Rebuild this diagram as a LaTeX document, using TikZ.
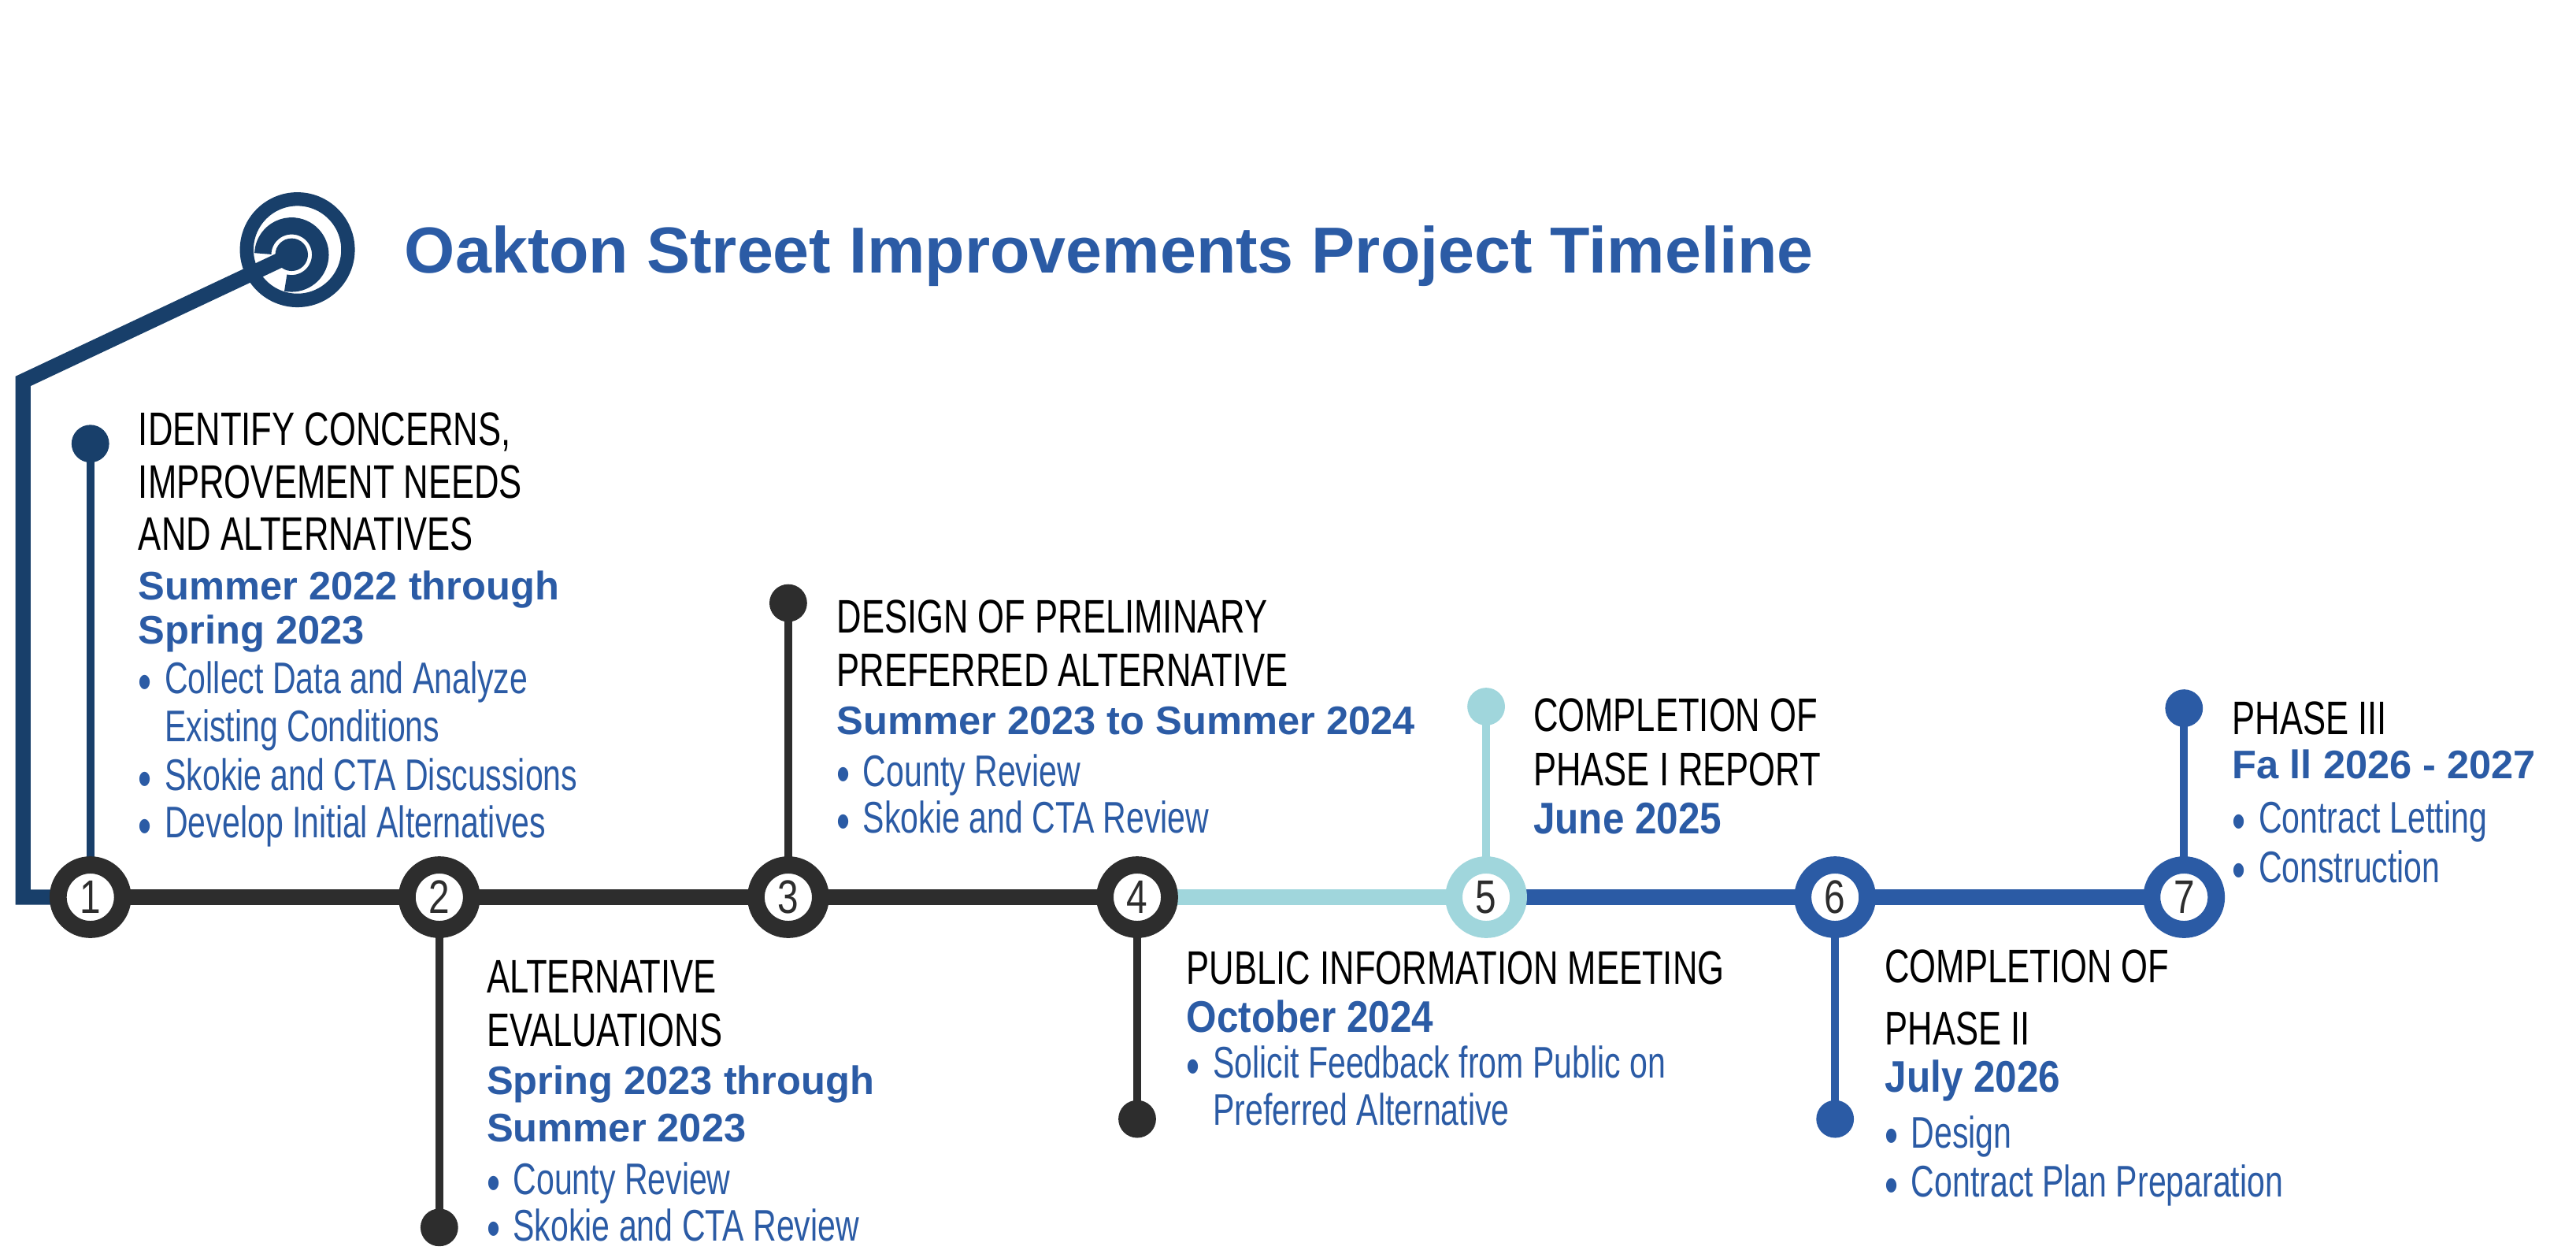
\documentclass[tikz,border=0pt]{standalone}
\usepackage{fontspec}
\usetikzlibrary{backgrounds}
\setmainfont{Liberation Sans}
\newfontfamily\condfam[FakeStretch=0.73]{Liberation Sans}
\newfontfamily\datefam[FakeStretch=0.88]{Liberation Sans}
\newfontfamily\numfam[FakeStretch=0.8]{Liberation Sans}
\definecolor{oaknavy}{RGB}{24,63,106}
\definecolor{oakblue}{RGB}{43,91,165}
\definecolor{oakteal}{RGB}{160,214,220}
\definecolor{oakgray}{RGB}{45,45,45}
\newcommand{\hdfont}{\condfam\fontsize{17}{20}\selectfont}
\newcommand{\dtfont}{\bfseries\fontsize{14.4}{17}\selectfont}
\newcommand{\dtcfont}{\datefam\bfseries\fontsize{16}{19}\selectfont}
\newcommand{\lifont}{\condfam\fontsize{16}{19}\selectfont}
\newcommand{\nofont}{\numfam\fontsize{17}{19}\selectfont}
\newcommand{\bul}{\makebox[9.5pt][l]{\raisebox{-2.2pt}{\fontsize{19}{19}\selectfont\textbullet}}}

\begin{document}
\begin{tikzpicture}[x=0.2086mm, y=-0.2086mm,
	hd/.style={anchor=base west, inner sep=0pt, font=\hdfont},
	dt/.style={anchor=base west, inner sep=0pt, text=oakblue, font=\dtfont},
	dtc/.style={dt, font=\dtcfont},
	li/.style={anchor=base west, inner sep=0pt, text=oakblue, font=\lifont},
	station/.style={circle, draw=#1, fill=white, line width=6.2pt, minimum size=23.3pt,
		inner sep=0pt, font=\nofont, text=oakgray},
	knob/.style={circle, fill=#1, minimum size=13.6pt, inner sep=0pt},
	rail/.style={line width=5.5pt},
	riser/.style={line width=2.85pt}]
	\useasboundingbox (0,0) rectangle (1568,763);

	\node[anchor=base west, inner sep=0pt, text=oakblue, font=\bfseries\fontsize{23.5}{28}\selectfont]
		(title) at (246,166) {Oakton Street Improvements Project Timeline};

	\node[circle, draw=oaknavy, line width=4.93pt, minimum size=36.6pt, inner sep=0pt] (target) at (181,152) {};
	\node[circle, fill=oaknavy, minimum size=11.8pt, inner sep=0pt] (bull) at (177.5,155) {};
	\draw[oaknavy, line width=6.1pt] (bull.center) ++(102:17.5) arc[start angle=102, end angle=-178, radius=17.5];

	\node[station=oakgray] (s1) at (55,546) {1};
	\node[station=oakgray] (s2) at (267.4,546) {2};
	\node[station=oakgray] (s3) at (479.8,546) {3};
	\node[station=oakgray] (s4) at (692.2,546) {4};
	\node[station=oakteal] (s5) at (904.6,546) {5};
	\node[station=oakblue] (s6) at (1117,546) {6};
	\node[station=oakblue] (s7) at (1329.4,546) {7};

	\node[knob=oaknavy] (k1) at (55,270) {};
	\node[knob=oakgray] (k2) at (267.4,747) {};
	\node[knob=oakgray] (k3) at (479.8,367) {};
	\node[knob=oakgray] (k4) at (692.2,681) {};
	\node[knob=oakteal] (k5) at (904.6,430) {};
	\node[knob=oakblue] (k6) at (1117,681) {};
	\node[knob=oakblue] (k7) at (1329.4,431) {};

	\coordinate (fb) at (14,546);
	\coordinate (ft) at (14,232);
	\begin{scope}[on background layer]
		\draw[oaknavy, line width=5.5pt, line join=miter] (s1.center) -- (fb) -- (ft) -- (bull.center);
		\draw[rail, oakgray] (s1.center) -- (s4.center);
		\draw[rail, oakteal] (s4.center) -- (s5.center);
		\draw[rail, oakblue] (s5.center) -- (s7.center);
		\draw[riser, oaknavy] (s1.center) -- (k1.center);
		\draw[riser, oakgray] (s2.center) -- (k2.center);
		\draw[riser, oakgray] (s3.center) -- (k3.center);
		\draw[riser, oakgray] (s4.center) -- (k4.center);
		\draw[riser, oakteal] (s5.center) -- (k5.center);
		\draw[riser, oakblue] (s6.center) -- (k6.center);
		\draw[riser, oakblue] (s7.center) -- (k7.center);
	\end{scope}

	\node[hd] (h1a) at (84,271) {IDENTIFY CONCERNS,};
	\node[hd] (h1b) at (84,303) {IMPROVEMENT NEEDS};
	\node[hd] (h1c) at (84,335) {AND ALTERNATIVES};
	\node[dt] (d1a) at (84,365) {Summer 2022 through};
	\node[dt] (d1b) at (84,392) {Spring 2023};
	\node[li] (l1a) at (84,422) {\bul Collect Data and Analyze};
	\node[li] (l1b) at (100,451.5) {Existing Conditions};
	\node[li] (l1c) at (84,481) {\bul Skokie and CTA Discussions};
	\node[li] (l1d) at (84,510) {\bul Develop Initial Alternatives};

	\node[hd] (h2a) at (296,604) {ALTERNATIVE};
	\node[hd] (h2b) at (296,637) {EVALUATIONS};
	\node[dt] (d2a) at (296,666) {Spring 2023 through};
	\node[dt] (d2b) at (296,695) {Summer 2023};
	\node[li] (l2a) at (296,727) {\bul County Review};
	\node[li] (l2b) at (296,755) {\bul Skokie and CTA Review};

	\node[hd] (h3a) at (509,385) {DESIGN OF PRELIMINARY};
	\node[hd] (h3b) at (509,418) {PREFERRED ALTERNATIVE};
	\node[dt] (d3a) at (509,447) {Summer 2023 to Summer 2024};
	\node[li] (l3a) at (509,478.5) {\bul County Review};
	\node[li] (l3b) at (509,507) {\bul Skokie and CTA Review};

	\node[hd] (h4a) at (722,599) {PUBLIC INFORMATION MEETING};
	\node[dtc] (d4a) at (722,628) {October 2024};
	\node[li] (l4a) at (722,656) {\bul Solicit Feedback from Public on};
	\node[li] (l4b) at (738,685) {Preferred Alternative};

	\node[hd] (h5a) at (933,445) {COMPLETION OF};
	\node[hd] (h5b) at (933,478) {PHASE I REPORT};
	\node[dtc] (d5a) at (933,507.5) {June 2025};

	\node[hd] (h6a) at (1147,598) {COMPLETION OF};
	\node[hd] (h6b) at (1147,636) {PHASE II};
	\node[dtc] (d6a) at (1147,664.5) {July 2026};
	\node[li] (l6a) at (1147,698.5) {\bul Design};
	\node[li] (l6b) at (1147,728.5) {\bul Contract Plan Preparation};

	\node[hd] (h7a) at (1358.5,447) {PHASE III};
	\node[dt] (d7a) at (1358.5,474) {Fa ll 2026 - 2027};
	\node[li] (l7a) at (1358.5,507) {\bul Contract Letting};
	\node[li] (l7b) at (1358.5,537) {\bul Construction};
\end{tikzpicture}
\end{document}
